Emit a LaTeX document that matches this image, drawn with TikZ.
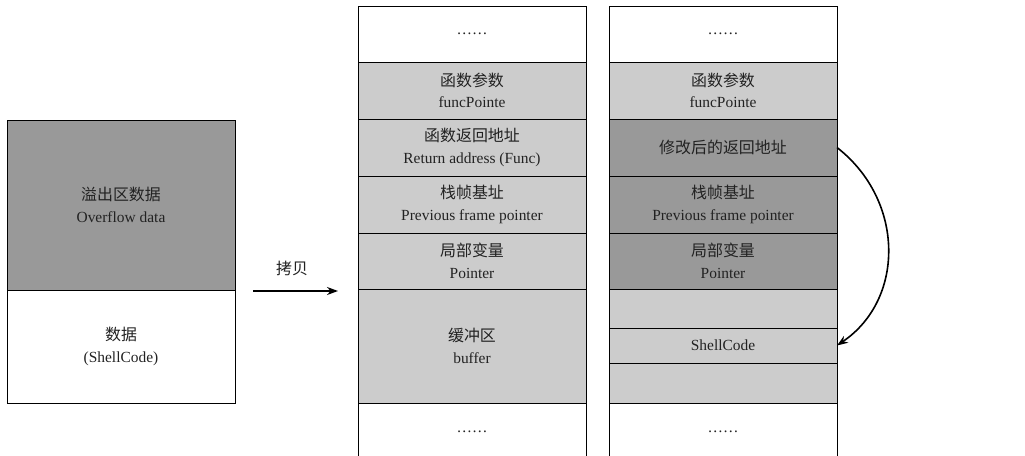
\documentclass[tikz,border=0pt]{standalone}
\usepackage{fontspec}
\setmainfont{Liberation Serif}
\newfontfamily\cjk{Noto Sans CJK SC}
\usetikzlibrary{arrows.meta}
\definecolor{lightcell}{RGB}{204,204,204}
\definecolor{darkcell}{RGB}{153,153,153}
\definecolor{txt}{RGB}{34,34,34}
\newcommand{\zh}[1]{{\cjk\fontsize{16}{21}\selectfont #1}}
\newcommand{\dotsrow}{\raisebox{-1bp}[0pt][0pt]{……}}
\begin{document}
\begin{tikzpicture}[x=1bp,y=-1bp,
  cell/.style={draw=black, line width=0.8bp, minimum width=228bp, inner sep=0pt,
    outer sep=0pt, align=center, anchor=north west, text=txt,
    font=\fontsize{15.5}{21.5}\selectfont},
  white cell/.style={cell, fill=white},
  light cell/.style={cell, fill=lightcell},
  dark cell/.style={cell, fill=darkcell},
  copyarrow/.style={line width=2bp, -{Stealth[length=11bp,width=8bp]}},
  jumparrow/.style={line width=1.6bp, -{Stealth[length=11bp,width=8bp]}}]
\useasboundingbox (0,0) rectangle (1025,456);

% left block
\node[dark cell, minimum height=170bp] (ov) at (7,120) {\zh{溢出区数据}\\Overflow data};
\node[white cell, minimum height=113bp] (sc) at (7,290) {\zh{数据}\\(ShellCode)};

% copy arrow
\coordinate (cpA) at (253,291);
\coordinate (cpB) at (338,291);
\draw[copyarrow] (cpA) -- (cpB);
\node[text=txt] (cplabel) at (292,268) {\zh{拷贝}};

% middle stack
\node[white cell, minimum height=56bp] (m1) at (358,6) {\dotsrow};
\node[light cell, minimum height=57bp] (m2) at (358,62) {\zh{函数参数}\\funcPointe};
\node[light cell, minimum height=57bp] (m3) at (358,119) {\zh{函数返回地址}\\Return address (Func)};
\node[light cell, minimum height=57bp] (m4) at (358,176) {\zh{栈帧基址}\\Previous frame pointer};
\node[light cell, minimum height=56bp] (m5) at (358,233) {\zh{局部变量}\\Pointer};
\node[light cell, minimum height=114bp] (m6) at (358,289) {\zh{缓冲区}\\buffer};
\node[white cell, minimum height=56bp] (m7) at (358,403) {\dotsrow};

% right stack
\node[white cell, minimum height=56bp] (r1) at (609,6) {\dotsrow};
\node[light cell, minimum height=57bp] (r2) at (609,62) {\zh{函数参数}\\funcPointe};
\node[dark cell, minimum height=57bp] (r3) at (609,119) {\zh{修改后的返回地址}};
\node[dark cell, minimum height=57bp] (r4) at (609,176) {\zh{栈帧基址}\\Previous frame pointer};
\node[dark cell, minimum height=56bp] (r5) at (609,233) {\zh{局部变量}\\Pointer};
\node[light cell, minimum height=39bp] (r6) at (609,289) {};
\node[light cell, minimum height=35bp] (r7) at (609,328) {ShellCode};
\node[light cell, minimum height=40bp] (r8) at (609,363) {};
\node[white cell, minimum height=56bp] (r9) at (609,403) {\dotsrow};

% jump arrow
\draw[jumparrow] (r3.east) .. controls +(68,53) and +(68,-46) .. (r7.east);
\end{tikzpicture}
\end{document}
